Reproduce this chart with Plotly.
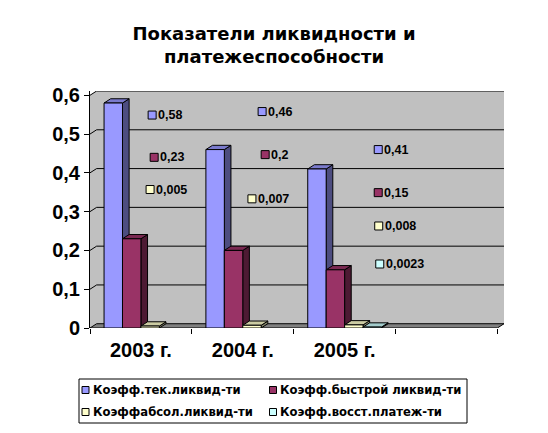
import plotly.graph_objects as go

# ── Data ────────────────────────────────────────────────────────────────
categories = ["2003 г.", "2004 г.", "2005 г.", ""]
series_names = [
    "Коэфф.тек.ликвид-ти",
    "Коэфф.быстрой ликвид-ти",
    "Коэффабсол.ликвид-ти",
    "Коэфф.восст.платеж-ти",
]
tek_likvid = [0.58, 0.46, 0.41, None]
bystr_likvid = [0.23, 0.2, 0.15, None]
absol_likvid = [0.005, 0.007, 0.008, None]
vosst_platezh = [None, None, 0.0023, None]
y_ticks = [0, 0.1, 0.2, 0.3, 0.4, 0.5, 0.6]
y_ticktext = ["0", "0,1", "0,2", "0,3", "0,4", "0,5", "0,6"]

# where the data labels sit (offset from category centre, height on value axis)
label_dx = [
    [0.11, 0.19, 0.33, None],
    [0.13, 0.22, 0.33, None],
    [0.09, 0.09, 0.335, None],
    [None, None, 0.345, None],
]
label_y = [
    [0.549, 0.558, 0.460, None],
    [0.440, 0.447, 0.349, None],
    [0.357, 0.333, 0.263, None],
    [None, None, 0.165, None],
]

# ── Styling ─────────────────────────────────────────────────────────────
front_colors = ["#9999FF", "#993366", "#FFFFCC", "#CCFFFF"]
side_colors = ["#4D4D80", "#4D1A33", "#808066", "#668080"]
top_colors = ["#7A7ACC", "#7A2952", "#CCCCA3", "#A3CCCC"]
FONT = "Liberation Sans, Arial, sans-serif"
WIDE_FONT = "DejaVu Sans, Verdana, sans-serif"

W, H = 548, 433
M_L, M_R, M_T, M_B = 90, 44, 91, 105
DX, DY = 0.065, 0.011          # fake 3D depth (x units, value units)
BW = 0.181                      # bar width
X_MAX = len(categories) + DX
Y_MAX = 0.6 + DY

all_series = [tek_likvid, bystr_likvid, absol_likvid, vosst_platezh]
centers = [i + 0.5 for i in range(len(categories))]


def poly(points):
    return "M " + " L ".join(f"{x},{y}" for x, y in points) + " Z"


def px_to_paper(px, py):
    return ((px - M_L) / (W - M_L - M_R), (H - M_B - py) / (H - M_T - M_B))


fig = go.Figure()
shapes = []

# back + left wall
shapes.append(dict(
    type="path", xref="x", yref="y", layer="below",
    path=poly([(0, 0), (0, 0.6), (DX, Y_MAX), (X_MAX, Y_MAX), (X_MAX, DY), (DX, DY)]),
    fillcolor="#C0C0C0", line=dict(width=0),
))
# gridlines on the walls
for v in y_ticks[1:]:
    shapes.append(dict(
        type="path", xref="x", yref="y", layer="below",
        path=f"M 0,{v} L {DX},{v + DY} L {X_MAX},{v + DY}",
        line=dict(color="black", width=1),
    ))
# floor
shapes.append(dict(
    type="path", xref="x", yref="y", layer="below",
    path=poly([(0, 0), (len(categories), 0), (X_MAX, DY), (DX, DY)]),
    fillcolor="#808080", line=dict(color="black", width=1),
))

# bars: front faces as real bars, side/top faces as shapes
for j, (vals, name) in enumerate(zip(all_series, series_names)):
    off = -2 * BW + j * BW
    fig.add_trace(go.Bar(
        x=centers, y=vals, width=BW, offset=off, name=name,
        marker=dict(color=front_colors[j], line=dict(color="black", width=1)),
        showlegend=False, hoverinfo="skip",
    ))
    for c, v in zip(centers, vals):
        if v is None:
            continue
        x0, x1 = c + off, c + off + BW
        shapes.append(dict(
            type="path", xref="x", yref="y", layer="below",
            path=poly([(x1, 0), (x1 + DX, DY), (x1 + DX, v + DY), (x1, v)]),
            fillcolor=side_colors[j], line=dict(color="black", width=1),
        ))
        shapes.append(dict(
            type="path", xref="x", yref="y", layer="below",
            path=poly([(x0, v), (x1, v), (x1 + DX, v + DY), (x0 + DX, v + DY)]),
            fillcolor=top_colors[j], line=dict(color="black", width=1),
        ))

# data labels with legend keys
annotations = []
for j, vals in enumerate(all_series):
    lx, ly, lt = [], [], []
    for i, v in enumerate(vals):
        if v is None:
            continue
        lx.append(centers[i] + label_dx[j][i])
        ly.append(label_y[j][i])
        lt.append(str(v).replace(".", ","))
    fig.add_trace(go.Scatter(
        x=lx, y=ly, mode="markers", name=series_names[j],
        marker=dict(symbol="square", size=8, color=front_colors[j],
                    line=dict(color="black", width=1)),
        showlegend=False, hoverinfo="skip",
    ))
    for x, y, t in zip(lx, ly, lt):
        annotations.append(dict(
            x=x, y=y, xref="x", yref="y", text=t, showarrow=False,
            xanchor="left", yanchor="middle", xshift=4,
            font=dict(family=FONT, size=12.5, color="black", weight="bold"),
        ))

# legend box drawn by hand (2 x 2 grid, Excel style)
bx0, by0 = px_to_paper(79, 423)
bx1, by1 = px_to_paper(467, 379)
shapes.append(dict(type="rect", xref="paper", yref="paper", layer="above",
                   x0=bx0, y0=by0, x1=bx1, y1=by1,
                   fillcolor="white", line=dict(color="black", width=1)))
legend_cols = [85.5, 273]
legend_rows = [390, 412]
for j, name in enumerate(series_names):
    kx, ky = legend_cols[j % 2], legend_rows[j // 2]
    k0 = px_to_paper(kx - 3.5, ky + 3.5)
    k1 = px_to_paper(kx + 3.5, ky - 3.5)
    shapes.append(dict(type="rect", xref="paper", yref="paper", layer="above",
                       x0=k0[0], y0=k0[1], x1=k1[0], y1=k1[1],
                       fillcolor=front_colors[j], line=dict(color="black", width=1)))
    tx, ty = px_to_paper(kx + 5, ky)
    annotations.append(dict(
        x=tx, y=ty, xref="paper", yref="paper", text=name, showarrow=False,
        xanchor="left", yanchor="middle",
        font=dict(family=WIDE_FONT, size=11.6, color="black", weight="bold"),
    ))

fig.update_layout(
    width=W, height=H,
    margin=dict(l=M_L, r=M_R, t=M_T, b=M_B),
    paper_bgcolor="white", plot_bgcolor="white",
    barmode="overlay",
    showlegend=False,
    title=dict(
        text="Показатели ликвидности и<br>платежеспособности",
        x=0.5, xref="container", xanchor="center",
        y=1 - 39.5 / H, yref="container", yanchor="middle",
        font=dict(family=WIDE_FONT, size=18, color="black", weight="bold"),
    ),
    xaxis=dict(
        range=[0, X_MAX], tickvals=centers, ticktext=categories,
        ticks="", showgrid=False, zeroline=False, showline=False,
        tickfont=dict(family=FONT, size=20, color="black", weight="bold"),
        ticklabelstandoff=8,
        minor=dict(tickvals=list(range(len(categories) + 1)), ticks="outside",
                   ticklen=5, tickcolor="black", showgrid=False),
    ),
    yaxis=dict(
        range=[0, Y_MAX], tickvals=y_ticks, ticktext=y_ticktext,
        ticks="outside", ticklen=5, tickcolor="black",
        showgrid=False, zeroline=False, showline=True, linecolor="black",
        tickfont=dict(family=FONT, size=20, color="black", weight="bold"),
    ),
    shapes=shapes,
    annotations=annotations,
)

# drop the browser's default page margin so the figure sits at the window corner
fig.write_html("out.html", config={"displayModeBar": False},
               post_script="document.body.style.margin='0';")
